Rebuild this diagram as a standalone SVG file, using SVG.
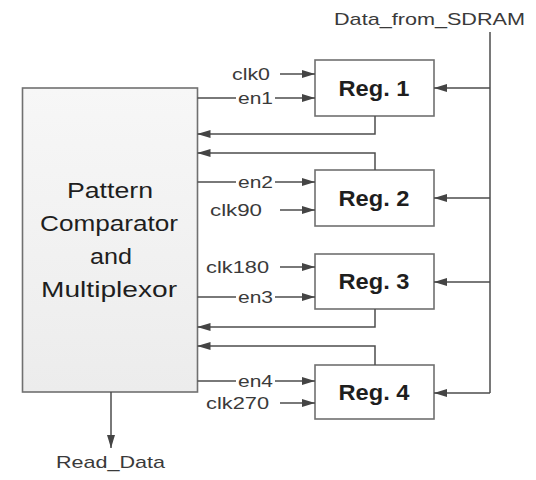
<svg xmlns="http://www.w3.org/2000/svg" width="536" height="480" viewBox="0 0 536 480">
  <defs>
    <linearGradient id="boxfill" x1="0" y1="0" x2="0" y2="1">
      <stop offset="0" stop-color="#f7f7f7"/>
      <stop offset="1" stop-color="#ececec"/>
    </linearGradient>
    <marker id="arr" markerUnits="userSpaceOnUse" markerWidth="13" markerHeight="8" refX="13" refY="4" orient="auto">
      <path d="M0,0 L13,4 L0,8 z" fill="#444"/>
    </marker>
    <style>
      .box { fill: #ffffff; stroke: #707070; stroke-width: 1.6; }
      .big { fill: url(#boxfill); stroke: #707070; stroke-width: 1.6; }
      .wire { fill: none; stroke: #4d4d4d; stroke-width: 1.5; }
      .arrow { marker-end: url(#arr); }
      .lbl { font-family: "Liberation Sans", Arial, sans-serif; font-size: 17px; fill: #3a3a3a; }
      .reg { font-family: "Liberation Sans", Arial, sans-serif; font-size: 22px; font-weight: bold; fill: #1e1e1e; text-anchor: middle; }
      .mid { font-family: "Liberation Sans", Arial, sans-serif; font-size: 22px; fill: #1e1e1e; text-anchor: middle; }
    </style>
  </defs>
  <rect width="536" height="480" fill="#ffffff"/>

  <g id="pattern-comparator">
    <rect class="big" x="22.5" y="88" width="175" height="304"/>
    <text class="mid" x="110" y="198" textLength="86" lengthAdjust="spacingAndGlyphs">Pattern</text>
    <text class="mid" x="109" y="231" textLength="138" lengthAdjust="spacingAndGlyphs">Comparator</text>
    <text class="mid" x="111" y="264" textLength="42" lengthAdjust="spacingAndGlyphs">and</text>
    <text class="mid" x="109" y="297" textLength="136" lengthAdjust="spacingAndGlyphs">Multiplexor</text>
  </g>

  <g id="reg1">
    <rect class="box" x="315" y="60" width="119" height="56"/>
    <text class="reg" x="374" y="96" textLength="71" lengthAdjust="spacingAndGlyphs">Reg. 1</text>
  </g>
  <g id="reg2">
    <rect class="box" x="315" y="170" width="119" height="56"/>
    <text class="reg" x="374" y="206" textLength="71" lengthAdjust="spacingAndGlyphs">Reg. 2</text>
  </g>
  <g id="reg3">
    <rect class="box" x="315" y="254" width="119" height="55"/>
    <text class="reg" x="374" y="289" textLength="71" lengthAdjust="spacingAndGlyphs">Reg. 3</text>
  </g>
  <g id="reg4">
    <rect class="box" x="315" y="365" width="119" height="54"/>
    <text class="reg" x="374" y="400" textLength="71" lengthAdjust="spacingAndGlyphs">Reg. 4</text>
  </g>

  <g id="labels">
    <text class="lbl" x="334" y="25" textLength="191" lengthAdjust="spacingAndGlyphs">Data_from_SDRAM</text>
    <text class="lbl" x="232" y="80" textLength="38" lengthAdjust="spacingAndGlyphs">clk0</text>
    <text class="lbl" x="238" y="104" textLength="35" lengthAdjust="spacingAndGlyphs">en1</text>
    <text class="lbl" x="238" y="188" textLength="35" lengthAdjust="spacingAndGlyphs">en2</text>
    <text class="lbl" x="210" y="216" textLength="52" lengthAdjust="spacingAndGlyphs">clk90</text>
    <text class="lbl" x="206" y="273" textLength="63" lengthAdjust="spacingAndGlyphs">clk180</text>
    <text class="lbl" x="238" y="303" textLength="35" lengthAdjust="spacingAndGlyphs">en3</text>
    <text class="lbl" x="238" y="387" textLength="35" lengthAdjust="spacingAndGlyphs">en4</text>
    <text class="lbl" x="206" y="409" textLength="63" lengthAdjust="spacingAndGlyphs">clk270</text>
    <text class="lbl" x="56" y="468" textLength="109" lengthAdjust="spacingAndGlyphs">Read_Data</text>
  </g>

  <g id="connectors">
    <!-- Data bus -->
    <path class="wire" d="M490,32 V393"/>
    <path class="wire arrow" d="M490,88 H434"/>
    <path class="wire arrow" d="M490,198 H434"/>
    <path class="wire arrow" d="M490,282 H434"/>
    <path class="wire arrow" d="M490,393 H434"/>

    <!-- clocks -->
    <path class="wire arrow" d="M280,74 H315"/>
    <path class="wire arrow" d="M280,210 H315"/>
    <path class="wire arrow" d="M280,267 H315"/>
    <path class="wire arrow" d="M280,403 H315"/>

    <!-- enables -->
    <path class="wire" d="M197.5,98 H236"/>
    <path class="wire arrow" d="M275,98 H315"/>
    <path class="wire" d="M197.5,182 H236"/>
    <path class="wire arrow" d="M275,182 H315"/>
    <path class="wire" d="M197.5,297 H236"/>
    <path class="wire arrow" d="M275,297 H315"/>
    <path class="wire" d="M197.5,381 H236"/>
    <path class="wire arrow" d="M275,381 H315"/>

    <!-- register outputs back to comparator -->
    <path class="wire arrow" d="M375,116 V134 H197.5"/>
    <path class="wire arrow" d="M375,170 V153 H197.5"/>
    <path class="wire arrow" d="M375,309 V327 H197.5"/>
    <path class="wire arrow" d="M375,365 V346 H197.5"/>

    <!-- read data -->
    <path class="wire arrow" d="M111,392 V448"/>
  </g>
</svg>
